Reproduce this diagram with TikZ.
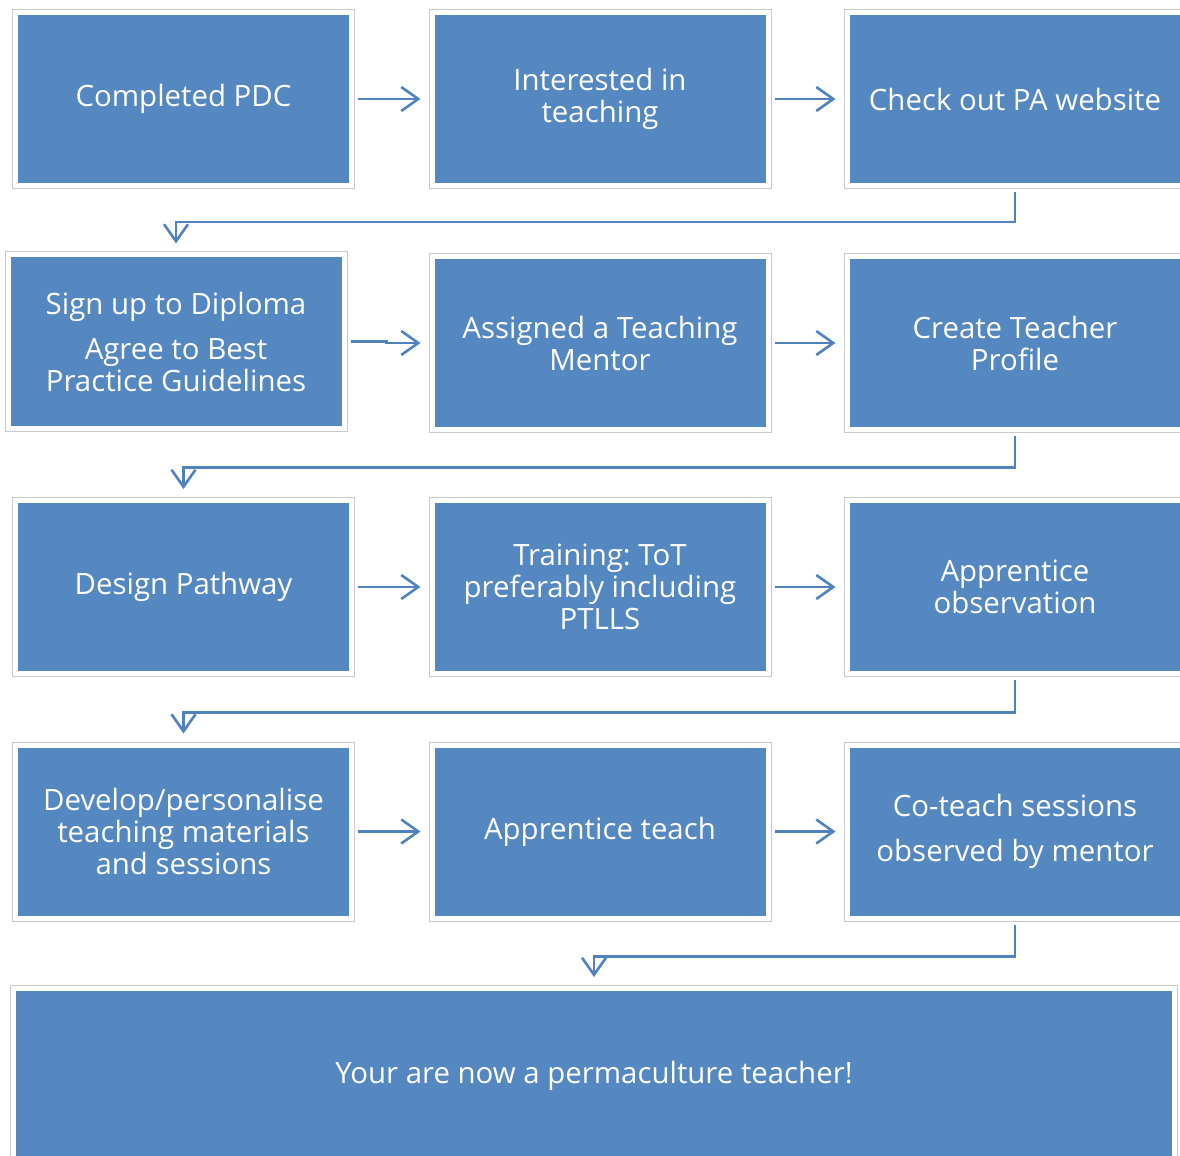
\documentclass[tikz,border=0pt]{standalone}
\usepackage{fontspec}
\setmainfont{Open Sans}
\frenchspacing
\usetikzlibrary{arrows.meta}
\definecolor{boxblue}{HTML}{5588C0}
\definecolor{linkblue}{HTML}{5282BE}
\definecolor{rimgrey}{HTML}{CACACA}

\tikzset{
  stepbox/.style={rectangle, fill=boxblue, draw=white, line width=2.5pt,
    preaction={draw=rimgrey, line width=3.5pt},
    minimum width=168pt, minimum height=86.5pt, inner sep=0pt,
    text=white, align=center, font=\fontsize{14.7}{16}\selectfont},
  link/.style={draw=linkblue, line width=1.3pt,
    -{Straight Barb[length=8.5pt,width=12pt]}, shorten >=4.5pt, shorten <=2pt},
}

\begin{document}
\begin{tikzpicture}[x=0.5pt, y=-0.5pt]
\useasboundingbox (0,0) rectangle (1180,1156);
% row 1
\node[stepbox] (pdc) at (183.5, 99) {Completed PDC};
\node[stepbox] (interest) at (600, 99) {Interested in\\teaching};
\node[stepbox] (website) at (1015, 99) {Check out PA website};
% row 2
\node[stepbox] (diploma) at (176, 341.5) {Sign up to Diploma\\[6.5pt]Agree to Best\\Practice Guidelines};
\node[stepbox] (mentor) at (600, 343) {Assigned a Teaching\\Mentor};
\node[stepbox] (profile) at (1015, 343) {Create Teacher\\Profile};
% row 3
\node[stepbox] (pathway) at (183.5, 587) {Design Pathway};
\node[stepbox] (training) at (600, 587) {Training: ToT\\preferably including\\PTLLS};
\node[stepbox] (observe) at (1015, 587) {Apprentice\\observation};
% row 4
\node[stepbox] (develop) at (183.5, 831.5) {Develop/personalise\\teaching materials\\and sessions};
\node[stepbox] (teach) at (600, 831.5) {Apprentice teach};
\node[stepbox] (coteach) at (1015, 831.5) {Co-teach sessions\\[6.5pt]observed by mentor};
% last row
\node[stepbox, minimum width=580.5pt, minimum height=87.5pt] (done) at (594, 1076) {Your are now a permaculture teacher!};

% links along the rows
\draw[link] (pdc) -- (interest);
\draw[link] (interest) -- (website);
\draw[link] (diploma.east) -- ++(40,0) |- (mentor.west);
\draw[link] (mentor) -- (profile);
\draw[link] (pathway) -- (training);
\draw[link] (training) -- (observe);
\draw[link] (develop) -- (teach);
\draw[link] (teach) -- (coteach);
% links between the rows
\draw[link] (website.south) -- ++(0,34) -| (diploma.north);
\draw[link] (profile.south) -- ++(0,35.5) -| (pathway.north);
\draw[link] (observe.south) -- ++(0,36.5) -| (develop.north);
\draw[link] (coteach.south) -- ++(0,36) -| (done.north);
\end{tikzpicture}
\end{document}
